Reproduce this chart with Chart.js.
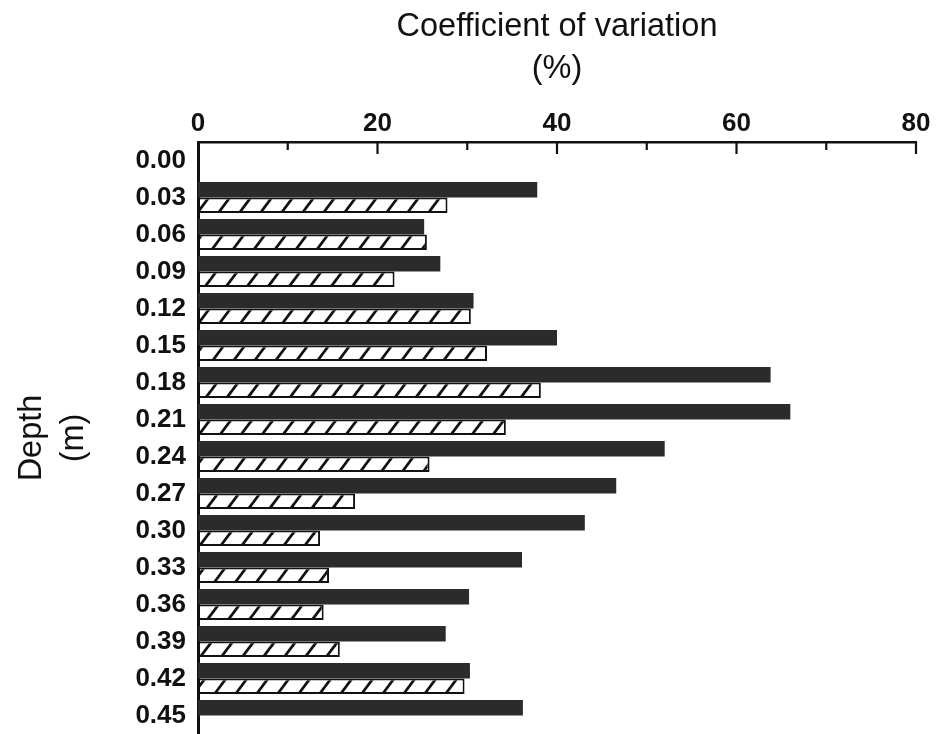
<!DOCTYPE html>
<html>
<head>
<meta charset="utf-8">
<script src="https://cdn.jsdelivr.net/npm/chart.js@4.4.1/dist/chart.umd.min.js"></script>
<style>
  html, body { margin: 0; padding: 0; background: #fff; }
  #wrap { width: 938px; height: 734px; }
</style>
</head>
<body>
<div id="wrap"><canvas id="chart"></canvas></div>
<script>
const depths = ['0.00', '0.03', '0.06', '0.09', '0.12', '0.15', '0.18', '0.21',
  '0.24', '0.27', '0.30', '0.33', '0.36', '0.39', '0.42', '0.45'];

const solidCV = [null, 37.8, 25.2, 27.0, 30.7, 40.0, 63.8, 66.0,
  52.0, 46.6, 43.1, 36.1, 30.2, 27.6, 30.3, 36.2];

const hatchedCV = [null, 27.8, 25.5, 21.9, 30.4, 32.2, 38.2, 34.3,
  25.8, 17.5, 13.6, 14.6, 14.0, 15.8, 29.7, null];

const xTicks = [0, 20, 40, 60, 80];

// hatch pattern: white with "/" strokes
function makeHatch() {
  const w = 21, h = 28;
  const c = document.createElement('canvas');
  c.width = w; c.height = h;
  const g = c.getContext('2d');
  g.fillStyle = '#fff';
  g.fillRect(0, 0, w, h);
  g.strokeStyle = '#111';
  g.lineWidth = 2.8;
  [-w, 0, w].forEach(dx => {
    g.beginPath();
    g.moveTo(dx - w * 0.5, h * 1.5);
    g.lineTo(dx + w * 1.5, -h * 0.5);
    g.stroke();
  });
  return g.createPattern(c, 'repeat');
}

// short tick marks hanging down from the top axis
const tickMarks = {
  id: 'tickMarks',
  afterDraw(chart) {
    const sx = chart.scales.x, ctx = chart.ctx, top = chart.chartArea.top;
    ctx.save();
    ctx.strokeStyle = '#111';
    ctx.lineWidth = 2.2;
    sx.ticks.forEach(t => {
      if (t.value === 0) return;
      const px = sx.getPixelForValue(t.value);
      const len = xTicks.includes(t.value) ? 12 : 8;
      ctx.beginPath();
      ctx.moveTo(px, top);
      ctx.lineTo(px, top + len);
      ctx.stroke();
    });
    ctx.restore();
  }
};

Chart.defaults.font.family = "'Liberation Sans', Arial, sans-serif";
Chart.defaults.color = '#111';

const ctx = document.getElementById('chart').getContext('2d');
new Chart(ctx, {
  type: 'bar',
  data: {
    labels: depths,
    datasets: [{
      label: 'solid',
      data: solidCV,
      backgroundColor: '#2b2b2b',
      borderWidth: 0
    }, {
      label: 'hatched',
      data: hatchedCV,
      backgroundColor: makeHatch(),
      borderColor: '#111',
      borderWidth: 2,
      borderSkipped: false
    }]
  },
  options: {
    indexAxis: 'y',
    responsive: true,
    maintainAspectRatio: false,
    animation: false,
    layout: { padding: { top: 0, right: 22, bottom: 0, left: 0 } },
    datasets: { bar: { categoryPercentage: 0.84, barPercentage: 1.0 } },
    plugins: {
      legend: { display: false },
      tooltip: { enabled: false }
    },
    scales: {
      x: {
        position: 'top',
        min: 0,
        max: 80,
        afterFit: s => { s.height = 142; },
        grid: { display: false, drawTicks: false },
        border: { display: true, color: '#111', width: 2.5 },
        ticks: {
          stepSize: 10,
          padding: 3,
          font: { size: 26, weight: 'bold' },
          callback: v => xTicks.includes(v) ? v : ''
        },
        title: {
          display: true,
          text: ['Coefficient of variation', '(%)'],
          font: { size: 32.5, lineHeight: 1.3 },
          padding: { top: 6, bottom: 0 }
        }
      },
      y: {
        afterFit: s => {
          s.width = 198;
          s.paddingTop = 0;
          s.paddingBottom = 0;
        },
        grid: { display: false, drawTicks: false },
        border: { display: true, color: '#111', width: 3 },
        ticks: {
          padding: 12,
          font: { size: 26, weight: 'bold' }
        },
        title: {
          display: true,
          text: ['Depth', '(m)'],
          font: { size: 32.5, lineHeight: 1.3 },
          padding: { top: 11, bottom: 0 }
        }
      }
    }
  },
  plugins: [tickMarks]
});
</script>
</body>
</html>
